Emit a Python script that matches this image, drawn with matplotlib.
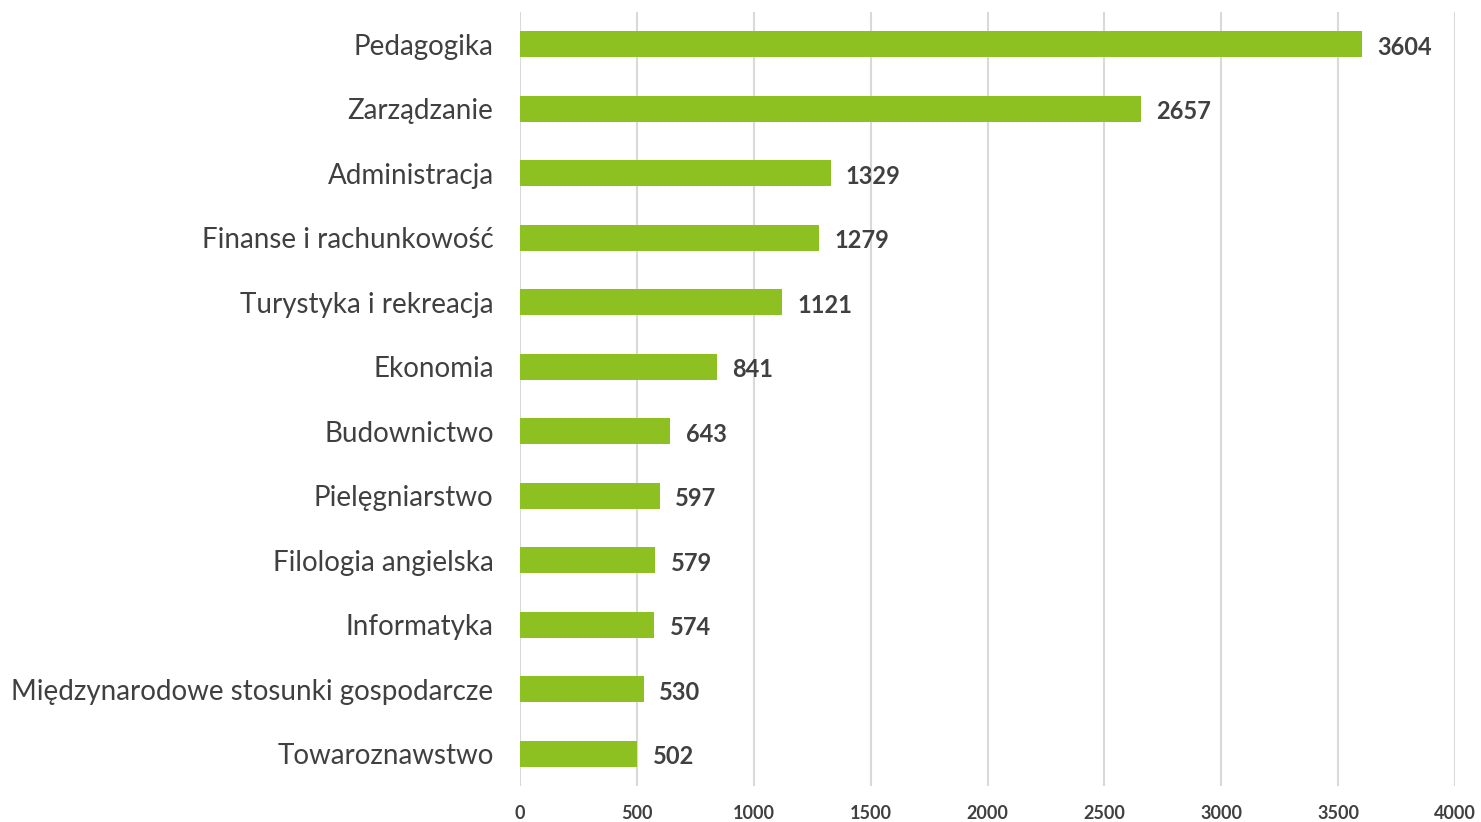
import matplotlib
matplotlib.use("Agg")
import matplotlib.pyplot as plt

categories = ["Pedagogika", "Zarządzanie", "Administracja", "Finanse i rachunkowość",
              "Turystyka i rekreacja", "Ekonomia", "Budownictwo", "Pielęgniarstwo",
              "Filologia angielska", "Informatyka", "Międzynarodowe stosunki gospodarcze",
              "Towaroznawstwo"]
values = [3604, 2657, 1329, 1279, 1121, 841, 643, 597, 579, 574, 530, 502]
x_ticks = [0, 500, 1000, 1500, 2000, 2500, 3000, 3500, 4000]

plt.rcParams['font.family'] = ['Lato', 'DejaVu Sans']
text_color = "#404040"
bar_color = "#8DC021"

fig = plt.figure(figsize=(14.81, 8.22), dpi=100)
ax = fig.add_axes([520/1481, 1-786/822, (1455-520)/1481, (786-12)/822])

ypos = list(range(len(categories)))
ax.barh(ypos, values, height=0.4, color=bar_color, zorder=3)
ax.set_ylim(len(categories)-0.5, -0.5)
ax.set_xlim(0, 4000)
ax.set_xticks(x_ticks)
ax.set_xticklabels([str(t) for t in x_ticks], fontsize=13, fontweight='bold', color=text_color)
ax.set_yticks(ypos)
ax.set_yticklabels(categories, fontsize=20, color=text_color)
ax.tick_params(axis='both', length=0)
ax.tick_params(axis='y', pad=19)
ax.tick_params(axis='x', pad=14)
ax.grid(axis='x', color="#D9D9D9", linewidth=1.5, zorder=0)
for s in ax.spines.values():
    s.set_visible(False)

for y, v in zip(ypos, values):
    ax.annotate(str(v), (v, y), xytext=(11, -2), textcoords='offset points',
                va='center', ha='left', fontsize=17, fontweight='bold', color=text_color)

fig.savefig("out.png", dpi=100, facecolor='white')
